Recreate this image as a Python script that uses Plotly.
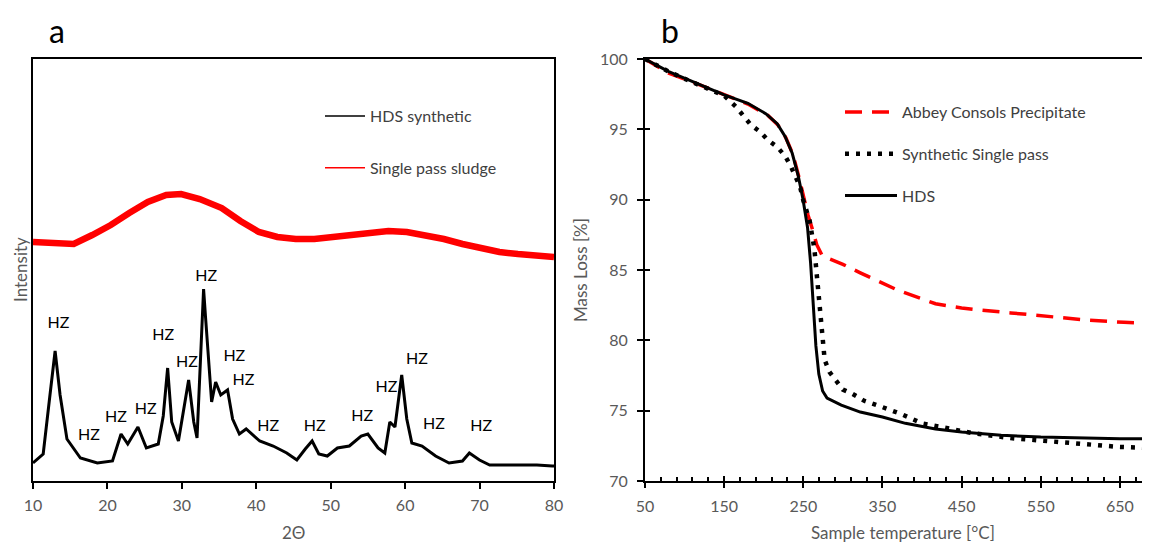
import plotly.graph_objects as go

# ---- panel a : XRD patterns (2-theta vs intensity, arbitrary units) ----
hds_2theta = [10.0, 11.37, 12.28, 12.97, 13.64, 14.56, 16.37, 18.64, 20.68, 21.83,
              22.73, 24.1, 25.23, 26.83, 27.5, 28.09, 28.64, 29.54, 30.91, 31.6,
              32.04, 32.5, 32.92, 33.19, 33.55, 34.0, 34.54, 35.23, 36.14, 36.82,
              37.73, 38.64, 40.46, 42.27, 44.09, 45.45, 46.58, 47.5, 48.4, 49.54,
              50.9, 52.5, 54.09, 54.99, 56.36, 57.27, 57.94, 58.63, 59.54, 60.22,
              60.9, 62.27, 64.09, 65.9, 67.7, 68.63, 69.99, 71.36, 74.08, 77.7, 79.76, 80.0]
hds_int = [18, 27, 86, 130, 86, 42, 23, 18, 20, 47,
           37, 54, 33, 37, 65, 113, 59, 40, 101, 59,
           43, 120, 192, 163, 126, 79, 99, 86, 91, 62,
           47, 52, 40, 35, 28, 21, 32, 40, 27, 25,
           33, 35, 45, 47, 33, 28, 59, 54, 106, 62,
           38, 35, 25, 18, 20, 28, 21, 16, 16, 16, 15, 15]

sps_2theta = [10.0, 15.47, 17.96, 20.45, 22.93, 25.42, 27.9, 29.9, 32.4, 35.36,
              37.86, 40.34, 42.83, 45.3, 47.8, 50.28, 52.78, 55.26, 57.75, 60.23,
              62.73, 65.2, 67.7, 70.17, 72.67, 75.15, 77.65, 80.0]
sps_int = [239, 237, 246, 256, 268, 279, 286, 287, 282, 273,
           260, 249, 244, 242, 242, 244, 246, 249, 250, 249,
           246, 242, 237, 233, 229, 227, 225, 224]

hz_2theta = [13.41, 17.51, 21.14, 25.15, 27.5, 30.69, 33.28, 37.05,
             38.28, 41.59, 47.86, 54.22, 57.5, 61.59, 63.86, 70.22]
hz_int = [157, 45, 63, 71, 145, 118, 204, 124,
          100, 54, 54, 64, 93, 121, 56, 54]

# ---- panel b : TGA curves ----
temp_abbey = [50, 80, 108, 150, 180, 205, 218, 228, 237, 244, 250, 256, 262, 267,
              274, 300, 322, 350, 370, 400, 417, 450, 465, 512, 560, 607, 655, 688]
mass_abbey = [100, 99.0, 98.4, 97.45, 96.8, 96.0, 95.3, 94.4, 93.2, 91.7, 90.2, 88.9, 87.8, 86.8,
              86.0, 85.4, 84.8, 84.1, 83.55, 82.95, 82.6, 82.3, 82.2, 81.95, 81.7, 81.45, 81.28, 81.2]

temp_syn = [50, 80, 108, 150, 165, 175, 184, 196, 205, 217, 227, 234, 239, 246, 250,
            258, 264, 267, 270, 274, 277, 283, 291, 300, 312, 327, 350, 374, 400,
            436, 464, 512, 550, 600, 650, 688]
mass_syn = [100, 99.1, 98.4, 97.4, 96.6, 95.9, 95.3, 94.8, 94.25, 93.75, 93.1, 92.4, 91.7, 90.9, 89.95,
            88.5, 86.5, 84.5, 82.5, 80.4, 78.6, 77.75, 77.1, 76.5, 76.2, 75.7, 75.25, 74.75, 74.1,
            73.7, 73.4, 73.05, 72.87, 72.65, 72.42, 72.35]

temp_hds = [50, 80, 108, 150, 180, 203, 217, 227, 236, 243.6, 249.7, 255.4, 259.2, 262.5,
            265.9, 269.6, 274.4, 280, 298, 322, 350, 379, 400, 417, 450, 500, 550, 600, 650, 688]
mass_hds = [100, 99.1, 98.45, 97.45, 96.85, 96.1, 95.4, 94.5, 93.3, 91.7, 90.0, 88.0, 85.5, 82.6,
            79.6, 77.6, 76.4, 75.9, 75.4, 74.9, 74.55, 74.1, 73.85, 73.7, 73.48, 73.25, 73.12, 73.05, 73.0, 73.0]

# page body adds an 8px margin, so the figure is 8px smaller and everything is placed in window pixels
OFF = 8
W, H = 1150 - OFF, 543 - OFF
FONT = "Lato"
GREY = "#595959"


def px(x):
    return (x - OFF) / W


def py(y):
    return 1 - (y - OFF) / H


fig = go.Figure()

# panel a
fig.add_trace(go.Scatter(x=sps_2theta, y=sps_int, mode="lines", line=dict(color="#ff0000", width=6.5),
                         showlegend=False, xaxis="x", yaxis="y"))
fig.add_trace(go.Scatter(x=hds_2theta, y=hds_int, mode="lines", line=dict(color="black", width=3),
                         showlegend=False, xaxis="x", yaxis="y"))
fig.add_trace(go.Scatter(x=hz_2theta, y=hz_int, mode="text", text=["HZ"] * len(hz_2theta),
                         textfont=dict(family=FONT, size=16, color="black"),
                         showlegend=False, xaxis="x", yaxis="y"))
# legend entries for panel a (thin sample lines)
fig.add_trace(go.Scatter(x=[None], y=[None], mode="lines", name="HDS synthetic",
                         line=dict(color="black", width=1.5), legend="legend", legendgroup="a1"))
fig.add_trace(go.Scatter(x=[None], y=[None], mode="lines", name="Single pass sludge",
                         line=dict(color="#ff0000", width=1.5), legend="legend", legendgroup="a2"))

# panel b
fig.add_trace(go.Scatter(x=temp_abbey, y=mass_abbey, mode="lines", name="Abbey Consols Precipitate",
                         line=dict(color="#ff0000", width=3.5, dash="17px,10px"),
                         xaxis="x2", yaxis="y2", legend="legend2", legendgroup="b1"))
fig.add_trace(go.Scatter(x=temp_syn, y=mass_syn, mode="lines", name="Synthetic Single pass",
                         line=dict(color="black", width=4.5, dash="4px,7px"),
                         xaxis="x2", yaxis="y2", legend="legend2", legendgroup="b2"))
fig.add_trace(go.Scatter(x=temp_hds, y=mass_hds, mode="lines", name="HDS",
                         line=dict(color="black", width=3),
                         xaxis="x2", yaxis="y2", legend="legend2", legendgroup="b3"))
# overlay axes give the crossing ticks on panel b
fig.add_trace(go.Scatter(x=[], y=[], xaxis="x3", yaxis="y3", showlegend=False))

ydom = [py(481), py(59)]
tickfont = dict(family=FONT, size=16, color=GREY)

fig.update_layout(
    width=W, height=H,
    margin=dict(l=0, r=0, t=0, b=0, autoexpand=False),
    paper_bgcolor="white", plot_bgcolor="white",
    font=dict(family=FONT, color=GREY),
    xaxis=dict(domain=[px(33), px(554)], range=[10, 80], dtick=10, tick0=10,
               showline=True, linecolor="black", linewidth=2, mirror=True,
               ticks="outside", ticklen=6, tickwidth=1.5, tickcolor="black",
               tickfont=tickfont, ticklabelstandoff=3, showgrid=False, zeroline=False, anchor="y"),
    yaxis=dict(domain=ydom, range=[0, 422], showticklabels=False, ticks="",
               showline=True, linecolor="black", linewidth=2, mirror=True,
               showgrid=False, zeroline=False, anchor="x"),
    xaxis2=dict(domain=[px(645), 1.0], range=[50, 688], tickvals=[50, 150, 250, 350, 450, 550, 650],
                showline=True, linecolor="black", linewidth=2, mirror=True,
                ticks="outside", ticklen=5, tickwidth=1.8, tickcolor="black",
                tickfont=tickfont, ticklabelstandoff=5, showgrid=False, zeroline=False, anchor="y2"),
    yaxis2=dict(domain=ydom, range=[70, 100], dtick=5, tick0=70,
                showline=True, linecolor="black", linewidth=2,
                ticks="outside", ticklen=6, tickwidth=1.8, tickcolor="black",
                tickfont=tickfont, ticklabelstandoff=6, showgrid=False, zeroline=False, anchor="x2"),
    xaxis3=dict(overlaying="x2", anchor="y3", range=[50, 688],
                tickvals=[50, 150, 250, 350, 450, 550, 650], ticks="inside", ticklen=5, tickwidth=1.8,
                tickcolor="black", showticklabels=False, showline=False, showgrid=False, zeroline=False,
                minor=dict(ticks="inside", dtick=20, tick0=50, ticklen=4, tickwidth=1.5, tickcolor="black")),
    yaxis3=dict(overlaying="y2", anchor="x3", range=[70, 100], dtick=5, tick0=70,
                ticks="inside", ticklen=5, tickwidth=1.8, tickcolor="black",
                showticklabels=False, showline=False, showgrid=False, zeroline=False),
    legend=dict(x=px(320), y=py(99), xanchor="left", yanchor="top", bgcolor="rgba(0,0,0,0)",
                font=dict(family=FONT, size=16, color="#404040"), tracegroupgap=28, itemwidth=40),
    legend2=dict(x=px(840), y=py(95), xanchor="left", yanchor="top", bgcolor="rgba(0,0,0,0)",
                 font=dict(family=FONT, size=16, color="#404040"), tracegroupgap=18, itemwidth=52),
)

annots = [
    dict(text="a", x=px(57), y=py(31), font=dict(family=FONT, size=32, color="black")),
    dict(text="b", x=px(670), y=py(31), font=dict(family=FONT, size=32, color="black")),
    dict(text="Intensity", x=px(20), y=py(270), textangle=-90, font=dict(family=FONT, size=17, color=GREY)),
    dict(text="2Θ", x=px(293), y=py(532), font=dict(family=FONT, size=17, color=GREY)),
    dict(text="Mass Loss [%]", x=px(580), y=py(270), textangle=-90, font=dict(family=FONT, size=17, color=GREY)),
    dict(text="Sample temperature [°C]", x=px(903), y=py(532), font=dict(family=FONT, size=17, color=GREY)),
]
for a in annots:
    fig.add_annotation(xref="paper", yref="paper", xanchor="center", yanchor="middle",
                       showarrow=False, **a)

fig.write_html("out.html")
